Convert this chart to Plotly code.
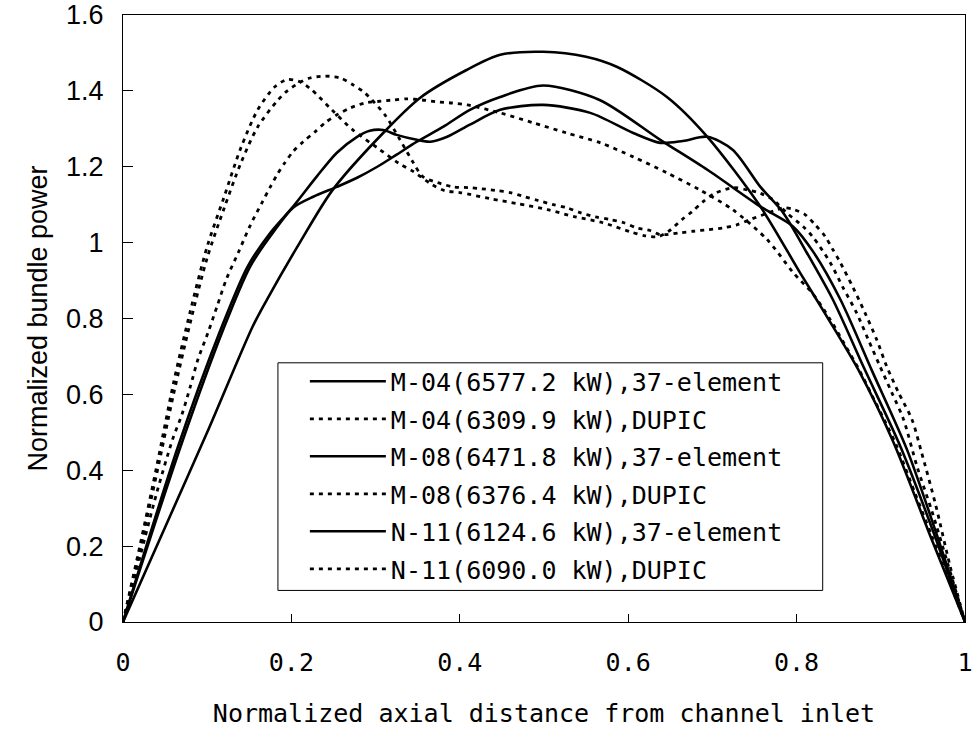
import plotly.graph_objects as go

# ---- data ----
names = [
    "M-04(6577.2 kW),37-element",
    "M-04(6309.9 kW),DUPIC",
    "M-08(6471.8 kW),37-element",
    "M-08(6376.4 kW),DUPIC",
    "N-11(6124.6 kW),37-element",
    "N-11(6090.0 kW),DUPIC",
]

# solid curve with the single high peak
s1_x = [0, 0.05, 0.10, 0.154, 0.171, 0.21, 0.249, 0.309, 0.353, 0.408, 0.448, 0.499,
        0.55, 0.587, 0.646, 0.694, 0.757, 0.804, 0.836, 0.875, 0.915, 0.96, 1.0]
s1_y = [0, 0.25, 0.50, 0.779, 0.85, 1.0, 1.139, 1.289, 1.382, 1.455, 1.495, 1.503,
        1.49, 1.463, 1.384, 1.279, 1.095, 0.921, 0.805, 0.658, 0.474, 0.22, 0.0]

# dotted curve with the early peak (x~0.2)
d1_x = [0, 0.02, 0.04, 0.06, 0.08, 0.10, 0.12, 0.14, 0.16, 0.18, 0.195, 0.21, 0.224,
        0.248, 0.273, 0.302, 0.327, 0.345, 0.367, 0.382, 0.4, 0.436, 0.468, 0.504, 0.537,
        0.569, 0.602, 0.62, 0.636, 0.648, 0.664, 0.676, 0.689, 0.703, 0.725, 0.741, 0.757,
        0.772, 0.788, 0.808, 0.82, 0.84, 0.855, 0.871, 0.885, 0.899, 0.913, 0.927, 0.943,
        0.961, 0.98, 1.0]
d1_y = [0, 0.2, 0.41, 0.63, 0.82, 0.99, 1.12, 1.25, 1.35, 1.41, 1.43, 1.424, 1.403,
        1.35, 1.297, 1.25, 1.21, 1.187, 1.153, 1.137, 1.132, 1.116, 1.103, 1.087, 1.068,
        1.053, 1.029, 1.018, 1.016, 1.03, 1.061, 1.082, 1.108, 1.13, 1.145, 1.139, 1.13,
        1.113, 1.079, 1.042, 1.013, 0.947, 0.882, 0.816, 0.745, 0.674, 0.605, 0.534, 0.41,
        0.29, 0.15, 0.0]

# solid curve with shoulder near x~0.2
s2_x = [0, 0.068, 0.119, 0.151, 0.178, 0.202, 0.226, 0.254, 0.278, 0.302, 0.325, 0.349,
        0.38, 0.412, 0.448, 0.499, 0.566, 0.638, 0.694, 0.757, 0.796, 0.82, 0.852, 0.89,
        0.931, 0.965, 1.0]
s2_y = [0, 0.46, 0.771, 0.937, 1.026, 1.092, 1.121, 1.147, 1.171, 1.2, 1.232, 1.266,
        1.305, 1.35, 1.384, 1.414, 1.376, 1.271, 1.192, 1.095, 1.042, 0.975, 0.85, 0.66,
        0.455, 0.24, 0.0]

# dotted curve with the peak near x~0.24
d2_x = [0, 0.02, 0.04, 0.06, 0.08, 0.10, 0.12, 0.14, 0.16, 0.1825, 0.194, 0.21, 0.222,
        0.24, 0.258, 0.273, 0.287, 0.311, 0.329, 0.345, 0.356, 0.374, 0.392, 0.41, 0.426,
        0.444, 0.46, 0.477, 0.493, 0.511, 0.527, 0.543, 0.561, 0.578, 0.594, 0.61, 0.626,
        0.638, 0.662, 0.677, 0.695, 0.713, 0.729, 0.745, 0.762, 0.777, 0.785, 0.797, 0.81,
        0.822, 0.834, 0.843, 0.852, 0.867, 0.881, 0.895, 0.907, 0.921, 0.937, 0.948,
        0.965, 0.982, 1.0]
d2_y = [0, 0.19, 0.39, 0.60, 0.79, 0.96, 1.09, 1.21, 1.305, 1.372, 1.398, 1.422, 1.434,
        1.439, 1.434, 1.416, 1.395, 1.337, 1.271, 1.21, 1.174, 1.158, 1.147, 1.145, 1.142,
        1.137, 1.132, 1.121, 1.111, 1.1, 1.092, 1.079, 1.068, 1.061, 1.053, 1.039, 1.032,
        1.021, 1.026, 1.03, 1.034, 1.039, 1.047, 1.061, 1.075, 1.087, 1.092, 1.087, 1.074,
        1.047, 1.016, 0.982, 0.947, 0.882, 0.816, 0.745, 0.674, 0.605, 0.534, 0.45,
        0.31, 0.15, 0.0]

# solid curve with two side bumps
s3_x = [0, 0.065, 0.116, 0.148, 0.175, 0.202, 0.23, 0.254, 0.278, 0.293, 0.309, 0.325,
        0.349, 0.365, 0.385, 0.412, 0.448, 0.499, 0.555, 0.606, 0.638, 0.665, 0.694, 0.724,
        0.757, 0.784, 0.812, 0.843, 0.88, 0.923, 0.962, 1.0]
s3_y = [0, 0.46, 0.771, 0.937, 1.026, 1.095, 1.174, 1.237, 1.279, 1.295, 1.297, 1.284,
        1.271, 1.266, 1.279, 1.311, 1.35, 1.363, 1.342, 1.289, 1.263, 1.268, 1.279, 1.245,
        1.147, 1.079, 0.974, 0.85, 0.67, 0.464, 0.24, 0.0]

# dotted curve with the broad peak near x~0.34
d3_x = [0, 0.02, 0.04, 0.059, 0.07, 0.08, 0.089, 0.101, 0.112, 0.123, 0.137, 0.151, 0.165,
        0.175, 0.183, 0.192, 0.202, 0.214, 0.228, 0.24, 0.254, 0.27, 0.287, 0.302, 0.321,
        0.337, 0.355, 0.373, 0.391, 0.409, 0.448, 0.487, 0.527, 0.567, 0.606, 0.646, 0.685,
        0.724, 0.765, 0.796, 0.82, 0.84, 0.857, 0.874, 0.89, 0.905, 0.919, 0.94, 0.96,
        0.98, 1.0]
d3_y = [0, 0.17, 0.34, 0.482, 0.547, 0.621, 0.692, 0.763, 0.834, 0.905, 0.974, 1.045,
        1.105, 1.147, 1.179, 1.21, 1.24, 1.266, 1.292, 1.316, 1.337, 1.355, 1.368, 1.372,
        1.376, 1.379, 1.376, 1.371, 1.368, 1.363, 1.342, 1.316, 1.289, 1.263, 1.226, 1.184,
        1.139, 1.087, 1.008, 0.921, 0.863, 0.797, 0.732, 0.666, 0.595, 0.529, 0.463, 0.343,
        0.23, 0.115, 0.0]

series_x = [s1_x, d1_x, s2_x, d2_x, s3_x, d3_x]
series_y = [s1_y, d1_y, s2_y, d2_y, s3_y, d3_y]
styles = ["solid", "4px,5px", "solid", "4px,5px", "solid", "4px,5px"]

x_ticks = [0, 0.2, 0.4, 0.6, 0.8, 1.0]
x_ticktext = ["0", "0.2", "0.4", "0.6", "0.8", "1"]
y_ticks = [0, 0.2, 0.4, 0.6, 0.8, 1.0, 1.2, 1.4, 1.6]
y_ticktext = ["0", "0.2", "0.4", "0.6", "0.8", "1", "1.2", "1.4", "1.6"]

MONO = "DejaVu Sans Mono"
SANS = "Liberation Sans, Arial, sans-serif"

fig = go.Figure()
for i, (nm, xs, ys, ds) in enumerate(zip(names, series_x, series_y, styles)):
    fig.add_trace(go.Scatter(
        x=xs, y=ys, mode="lines", name=nm,
        line=dict(color="black", width=2.8 if ds != "solid" else 2.6,
                  dash=ds, shape="spline", smoothing=0.8),
        legendgroup=f"g{i}",
    ))

# legend frame
fig.add_shape(type="rect", xref="paper", yref="paper",
              x0=0.184, x1=0.831, y0=0.052, y1=0.427,
              line=dict(color="black", width=1), fillcolor="white", layer="below")

fig.update_layout(
    width=976, height=731,
    margin=dict(l=123, r=11, t=15, b=109, autoexpand=False),
    paper_bgcolor="white", plot_bgcolor="white",
    showlegend=True,
    legend=dict(
        x=0.216, y=0.434, xanchor="left", yanchor="top",
        bgcolor="rgba(0,0,0,0)", borderwidth=0,
        font=dict(family=MONO, size=25, color="black"),
        itemwidth=76, tracegroupgap=2, traceorder="grouped",
    ),
)
fig.update_xaxes(
    range=[0, 1], tickvals=x_ticks, ticktext=x_ticktext,
    showgrid=False, zeroline=False,
    showline=True, linecolor="black", linewidth=1, mirror=True,
    ticks="inside", ticklen=8, tickcolor="black",
    tickfont=dict(family=MONO, size=25, color="black"),
    ticklabelstandoff=18, ticklabeloverflow="allow",
    title=dict(text="Normalized axial distance from channel inlet",
               font=dict(family=MONO, size=25, color="black"), standoff=28),
)
fig.update_yaxes(
    range=[0, 1.6], tickvals=y_ticks, ticktext=y_ticktext,
    showgrid=False, zeroline=False,
    showline=True, linecolor="black", linewidth=1, mirror=True,
    ticks="inside", ticklen=10, tickcolor="black",
    tickfont=dict(family=SANS, size=27, color="black"),
    ticklabelstandoff=13, ticklabeloverflow="allow",
    title=dict(text="Normalized bundle power",
               font=dict(family=SANS, size=27, color="black"), standoff=10),
)

fig.write_html("out.html")
